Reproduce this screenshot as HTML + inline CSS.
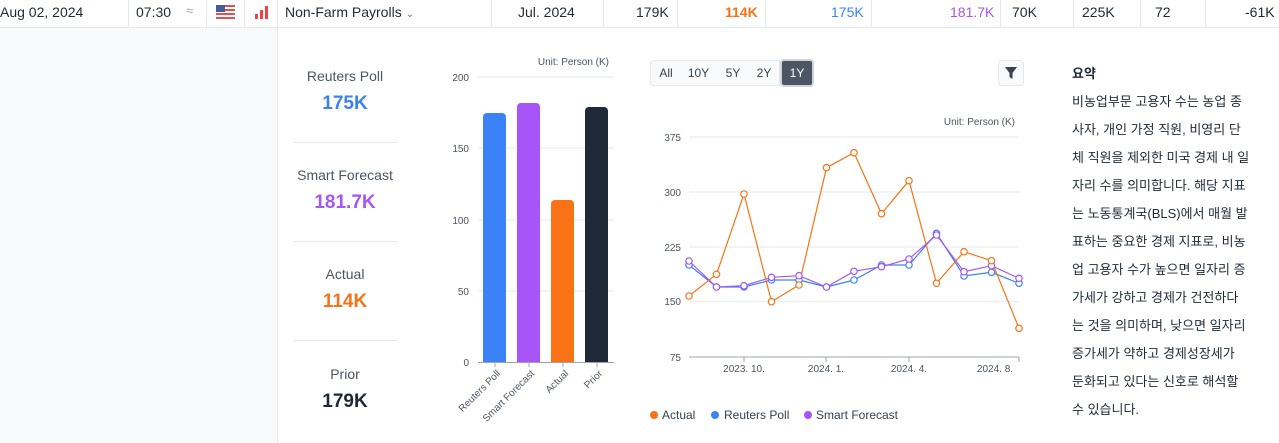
<!DOCTYPE html>
<html><head><meta charset="utf-8"><style>
body{margin:0;width:1279px;height:443px;background:#fff;font-family:"Liberation Sans","Noto Sans CJK KR",sans-serif;color:#1f2937;position:relative;overflow:hidden}
.a{position:absolute;white-space:nowrap}
.hdr{position:absolute;left:0;top:0;width:1279px;height:27px;border-bottom:1px solid #e5e7eb;font-size:14px}
.sep{position:absolute;top:0;width:1px;height:27px;background:#e5e7eb}
.lab{font-size:14px;color:#4b5563;text-align:center;width:170px;left:260px}
.val{font-size:19px;font-weight:bold;text-align:center;width:170px;left:260px}
.hr{position:absolute;left:294px;width:103px;height:1px;background:#e5e7eb}
.btn{position:absolute;top:60px;height:24px;font-size:12px;line-height:24px;text-align:center;background:#f9fafb;border:1px solid #e5e7eb;color:#374151}
.kr{font-size:13px;line-height:28px;color:#1f2937}
</style></head><body>
<div class="hdr">
<div class="a" style="left:0;top:4px">Aug 02, 2024</div>
<div class="sep" style="left:128px"></div>
<div class="a" style="left:136px;top:4px">07:30</div>
<div class="a" style="left:186px;top:3px;color:#9ca3af;font-size:13px">≈</div>
<div class="sep" style="left:206px"></div>
<svg class="a" style="left:216px;top:5px" width="19" height="14"><rect width="19" height="14" fill="#fff"/><g fill="#e05252"><rect y="0" width="19" height="2"/><rect y="4" width="19" height="2"/><rect y="8" width="19" height="2"/><rect y="12" width="19" height="2"/></g><rect width="9" height="7" fill="#4a5b9c"/></svg>
<div class="sep" style="left:244px"></div>
<svg class="a" style="left:255px;top:6px" width="14" height="13"><g fill="#ef4444"><rect x="0" y="8" width="3" height="5"/><rect x="5" y="4" width="3" height="9"/><rect x="10" y="0" width="3" height="13"/></g></svg>
<div class="sep" style="left:277px"></div>
<div class="a" style="left:285px;top:4px">Non-Farm Payrolls <span style="font-size:10px;color:#6b7280">⌄</span></div>
<div class="sep" style="left:491px"></div>
<div class="a" style="left:518px;top:4px">Jul. 2024</div>
<div class="sep" style="left:603px"></div>
<div class="a" style="left:636px;top:4px">179K</div>
<div class="sep" style="left:677px"></div>
<div class="a" style="left:725px;top:4px;color:#f97316;font-weight:bold">114K</div>
<div class="sep" style="left:765px"></div>
<div class="a" style="left:831px;top:4px;color:#3b82f6">175K</div>
<div class="sep" style="left:871px"></div>
<div class="a" style="left:950px;top:4px;color:#a855f7">181.7K</div>
<div class="sep" style="left:1000px"></div>
<div class="a" style="left:1012px;top:4px">70K</div>
<div class="sep" style="left:1073px"></div>
<div class="a" style="left:1082px;top:4px">225K</div>
<div class="sep" style="left:1140px"></div>
<div class="a" style="left:1155px;top:4px">72</div>
<div class="sep" style="left:1205px"></div>
<div class="a" style="left:1245px;top:4px">-61K</div>
</div>
<div class="a" style="left:0;top:28px;width:277px;height:415px;background:#f9fafb;border-right:1px solid #e5e7eb"></div>

<div class="a lab" style="top:68px">Reuters Poll</div>
<div class="a val" style="top:93px;color:#3b82f6">175K</div>
<div class="hr" style="top:142px"></div>
<div class="a lab" style="top:167px">Smart Forecast</div>
<div class="a val" style="top:192px;color:#a855f7">181.7K</div>
<div class="hr" style="top:241px"></div>
<div class="a lab" style="top:266px">Actual</div>
<div class="a val" style="top:291px;color:#f97316">114K</div>
<div class="hr" style="top:340px"></div>
<div class="a lab" style="top:366px">Prior</div>
<div class="a val" style="top:391px;color:#1f2937">179K</div>

<svg class="a" style="left:0;top:0" width="1279" height="443" font-family="Liberation Sans, sans-serif">
<text x="609" y="65" font-size="10" fill="#4b5563" text-anchor="end">Unit: Person (K)</text>
<g stroke="#e5e7eb"><line x1="478" x2="614" y1="77" y2="77"/><line x1="478" x2="614" y1="148" y2="148"/><line x1="478" x2="614" y1="220" y2="220"/><line x1="478" x2="614" y1="291" y2="291"/></g>
<line x1="478" x2="614" y1="362.5" y2="362.5" stroke="#9ca3af"/>
<g font-size="10" fill="#4b5563" text-anchor="end"><text x="469" y="81">200</text><text x="469" y="152">150</text><text x="469" y="224">100</text><text x="469" y="295">50</text><text x="469" y="366">0</text></g>
<path d="M483,362V117a4,4 0 0 1 4-4h15a4,4 0 0 1 4,4V362z" fill="#3b82f6"/>
<path d="M517,362V107a4,4 0 0 1 4-4h15a4,4 0 0 1 4,4V362z" fill="#a855f7"/>
<path d="M551,362V204a4,4 0 0 1 4-4h15a4,4 0 0 1 4,4V362z" fill="#f97316"/>
<path d="M585,362V111a4,4 0 0 1 4-4h15a4,4 0 0 1 4,4V362z" fill="#1f2937"/>
<g stroke="#9ca3af"><line x1="495" x2="495" y1="362" y2="367"/><line x1="529" x2="529" y1="362" y2="367"/><line x1="563" x2="563" y1="362" y2="367"/><line x1="597" x2="597" y1="362" y2="367"/></g>
<g font-size="10" fill="#4b5563" text-anchor="end">
<text transform="translate(501,374) rotate(-45)">Reuters Poll</text>
<text transform="translate(535,374) rotate(-45)">Smart Forecast</text>
<text transform="translate(569,374) rotate(-45)">Actual</text>
<text transform="translate(603,374) rotate(-45)">Prior</text>
</g>

<text x="1015" y="125" font-size="10" fill="#4b5563" text-anchor="end">Unit: Person (K)</text>
<g stroke="#eeeff1" stroke-width="1.5"><line x1="689" x2="1019" y1="137" y2="137"/><line x1="689" x2="1019" y1="192" y2="192"/><line x1="689" x2="1019" y1="247" y2="247"/><line x1="689" x2="1019" y1="301.5" y2="301.5"/></g>
<line x1="689" x2="1019" y1="357" y2="357" stroke="#9ca3af"/>
<g stroke="#9ca3af"><line x1="744" x2="744" y1="357" y2="362"/><line x1="826" x2="826" y1="357" y2="362"/><line x1="909" x2="909" y1="357" y2="362"/><line x1="1019" x2="1019" y1="357" y2="362"/></g>
<g font-size="10" fill="#4b5563" text-anchor="end"><text x="681" y="141">375</text><text x="681" y="196">300</text><text x="681" y="251">225</text><text x="681" y="305">150</text><text x="681" y="361">75</text></g>
<g font-size="10" fill="#4b5563" text-anchor="middle"><text x="744" y="372">2023. 10.</text><text x="826" y="372">2024. 1.</text><text x="909" y="372">2024. 4.</text><text x="995" y="372">2024. 8.</text></g>
<g fill="#fff" stroke-width="1.2">
<polyline fill="none" stroke="#3b82f6" points="689,265 716.5,287 744,287 771.5,280 799,280 826.5,287 854,280 881.5,265 909,265 936.5,233.3 964,276 991.5,272.3 1019,283.3"/>
<polyline fill="none" stroke="#a855f7" points="689,261 716.5,287 744,285.7 771.5,277.3 799,275.7 826.5,287 854,271.3 881.5,266.7 909,259 936.5,235 964,271.7 991.5,265.7 1019,278.3"/>
<polyline fill="none" stroke="#f97316" points="689,296 716.5,274.3 744,194 771.5,301.7 799,285 826.5,167.7 854,152.7 881.5,213.7 909,180.7 936.5,283.3 964,251.7 991.5,260.7 1019,328.3"/>
<g stroke="#3b82f6"><circle cx="689" cy="265" r="3.2"/><circle cx="716.5" cy="287" r="3.2"/><circle cx="744" cy="287" r="3.2"/><circle cx="771.5" cy="280" r="3.2"/><circle cx="799" cy="280" r="3.2"/><circle cx="826.5" cy="287" r="3.2"/><circle cx="854" cy="280" r="3.2"/><circle cx="881.5" cy="265" r="3.2"/><circle cx="909" cy="265" r="3.2"/><circle cx="936.5" cy="233.3" r="3.2"/><circle cx="964" cy="276" r="3.2"/><circle cx="991.5" cy="272.3" r="3.2"/><circle cx="1019" cy="283.3" r="3.2"/></g>
<g stroke="#a855f7"><circle cx="689" cy="261" r="3.2"/><circle cx="716.5" cy="287" r="3.2"/><circle cx="744" cy="285.7" r="3.2"/><circle cx="771.5" cy="277.3" r="3.2"/><circle cx="799" cy="275.7" r="3.2"/><circle cx="826.5" cy="287" r="3.2"/><circle cx="854" cy="271.3" r="3.2"/><circle cx="881.5" cy="266.7" r="3.2"/><circle cx="909" cy="259" r="3.2"/><circle cx="936.5" cy="235" r="3.2"/><circle cx="964" cy="271.7" r="3.2"/><circle cx="991.5" cy="265.7" r="3.2"/><circle cx="1019" cy="278.3" r="3.2"/></g>
<g stroke="#f97316"><circle cx="689" cy="296" r="3.2"/><circle cx="716.5" cy="274.3" r="3.2"/><circle cx="744" cy="194" r="3.2"/><circle cx="771.5" cy="301.7" r="3.2"/><circle cx="799" cy="285" r="3.2"/><circle cx="826.5" cy="167.7" r="3.2"/><circle cx="854" cy="152.7" r="3.2"/><circle cx="881.5" cy="213.7" r="3.2"/><circle cx="909" cy="180.7" r="3.2"/><circle cx="936.5" cy="283.3" r="3.2"/><circle cx="964" cy="251.7" r="3.2"/><circle cx="991.5" cy="260.7" r="3.2"/><circle cx="1019" cy="328.3" r="3.2"/></g>
</g>
<g font-size="12" fill="#374151">
<circle cx="654" cy="415" r="4" fill="#f97316"/><text x="662" y="419">Actual</text>
<circle cx="715" cy="415" r="4" fill="#3b82f6"/><text x="724" y="419">Reuters Poll</text>
<circle cx="808" cy="415" r="4" fill="#a855f7"/><text x="816" y="419">Smart Forecast</text>
</g>
</svg>

<div class="btn" style="left:650px;width:30px;border-radius:4px 0 0 4px">All</div>
<div class="btn" style="left:680px;width:37px;border-left:none">10Y</div>
<div class="btn" style="left:717px;width:32px;border-left:none">5Y</div>
<div class="btn" style="left:749px;width:30px;border-left:none">2Y</div>
<div class="btn" style="left:780px;top:59px;width:30px;height:24px;background:#4b5563;color:#fff;border:2px solid #d1d5db;border-radius:4px">1Y</div>
<div class="btn" style="left:998px;width:24px;border-radius:4px"><svg width="14" height="14" style="margin-top:5px"><path d="M1,1H13L8.5,7V13L5.5,11V7Z" fill="#374151"/></svg></div>

<div class="a" style="left:1072px;top:63px;font-size:13px;font-weight:bold">요약</div>
<div class="a kr" style="left:1072px;top:88px">비농업부문 고용자 수는 농업 종<br>사자, 개인 가정 직원, 비영리 단<br>체 직원을 제외한 미국 경제 내 일<br>자리 수를 의미합니다. 해당 지표<br>는 노동통계국(BLS)에서 매월 발<br>표하는 중요한 경제 지표로, 비농<br>업 고용자 수가 높으면 일자리 증<br>가세가 강하고 경제가 건전하다<br>는 것을 의미하며, 낮으면 일자리<br>증가세가 약하고 경제성장세가<br>둔화되고 있다는 신호로 해석할<br>수 있습니다.</div>
</body></html>
